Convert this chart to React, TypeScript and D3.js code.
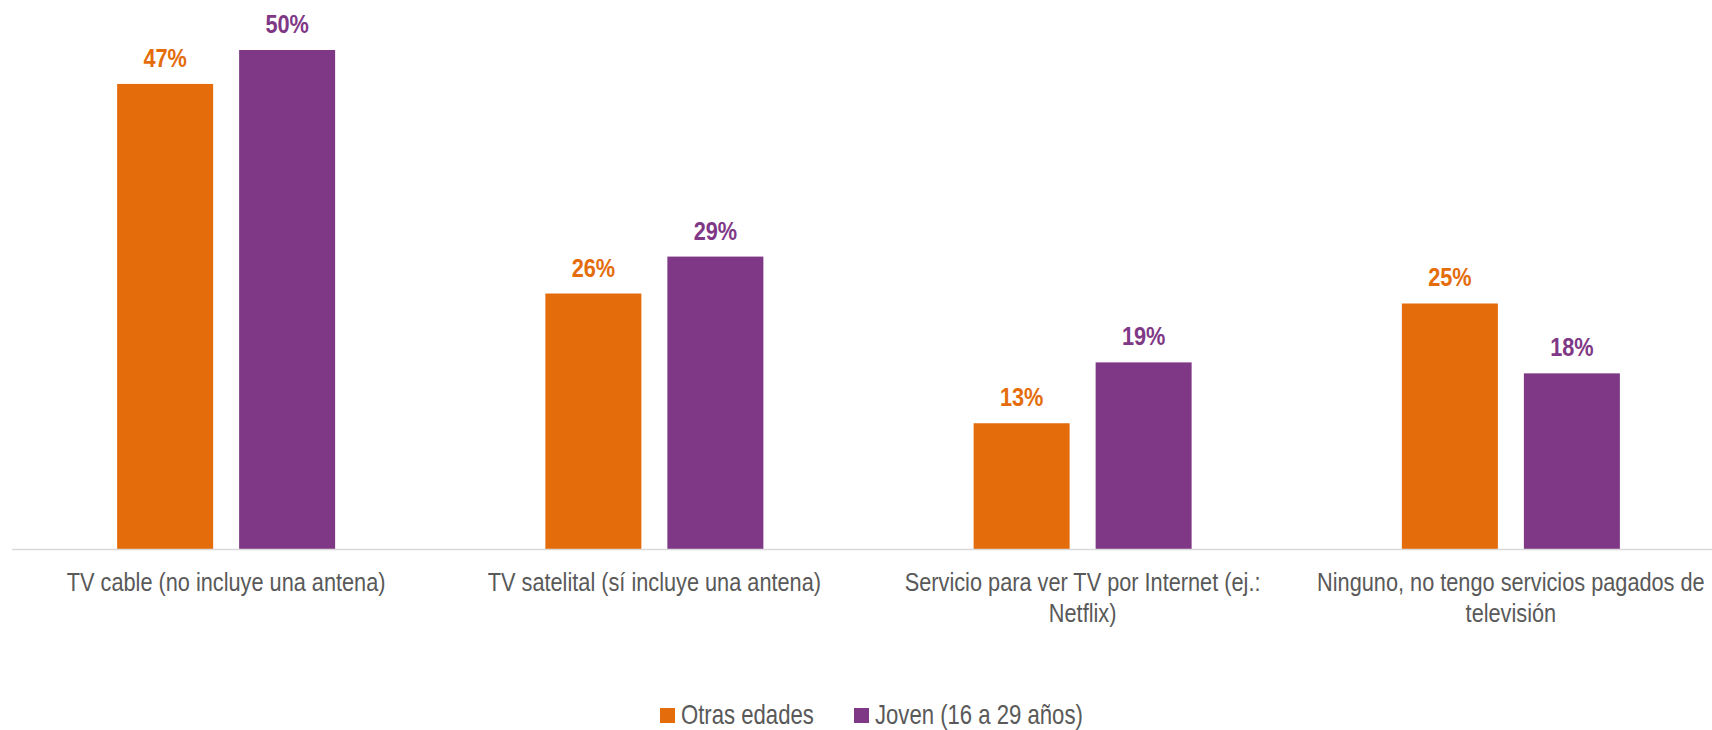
import * as d3 from 'd3'

const categories = [
  'TV cable (no incluye una antena)',
  'TV satelital (sí incluye una antena)',
  'Servicio para ver TV por Internet (ej.:\nNetflix)',
  'Ninguno, no tengo servicios pagados de\ntelevisión',
]
const seriesNames = ['Otras edades', 'Joven (16 a 29 años)']
const otrasEdades = [46.6, 25.6, 12.6, 24.6]
const joven = [50, 29.3, 18.7, 17.6]
const colors = ['#E46C0A', '#7F3886']

const W = 1712
const H = 730
const FONT = '"Liberation Sans", Arial, sans-serif'

// no narrow font installed, so squeeze Liberation Sans like Arial Narrow
const NarrowText = ({ x, y, children, ...rest }: any) => (
  <text transform={`translate(${x},${y}) scale(0.82,1)`} fontFamily={FONT} {...rest}>{children}</text>
)

const App = () => {
  const baseY = 549
  const x0 = d3.scaleBand().domain(categories).range([12, 1725])
  const step = x0.step()
  const x1 = d3.scaleBand()
    .domain(seriesNames)
    .range([step / 2 - 109, step / 2 + 109])
    .paddingInner(26 / 122)
  const y = d3.scaleLinear().domain([0, 50]).range([baseY, 50])
  const series = [otrasEdades, joven]

  return (
    <svg width={W} height={H} style={{ position: 'absolute', left: 0, top: 0, background: '#fff' }}>
      {categories.map((cat, i) => (
        <g key={cat} transform={`translate(${x0(cat)},0)`}>
          {series.map((vals, s) => {
            const v = vals[i]
            const bx = x1(seriesNames[s])
            return (
              <g key={s}>
                <rect x={bx} y={y(v)} width={x1.bandwidth()} height={baseY - y(v)} fill={colors[s]} />
                <NarrowText
                  x={bx + x1.bandwidth() / 2}
                  y={y(v) - 17}
                  textAnchor="middle"
                  fontWeight="bold"
                  fontSize={26.5}
                  fill={colors[s]}
                >{`${Math.round(v)}%`}</NarrowText>
              </g>
            )
          })}
          {cat.split('\n').map((line, k) => (
            <NarrowText
              key={k}
              x={step / 2}
              y={591 + k * 31}
              textAnchor="middle"
              fontSize={26.5}
              fill="#595959"
            >{line}</NarrowText>
          ))}
        </g>
      ))}
      <line x1={12} x2={W} y1={baseY + 0.5} y2={baseY + 0.5} stroke="#d9d9d9" strokeWidth={1.5} />
      {seriesNames.map((name, s) => {
        const lx = [660, 854][s]
        return (
          <g key={name}>
            <rect x={lx} y={708} width={15} height={15} fill={colors[s]} />
            <NarrowText x={lx + 21} y={724} fontSize={27} fill="#595959">{name}</NarrowText>
          </g>
        )
      })}
    </svg>
  )
}

export default App
